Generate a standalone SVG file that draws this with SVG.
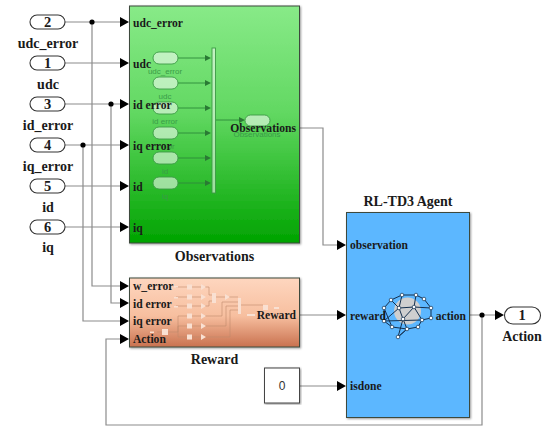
<svg xmlns="http://www.w3.org/2000/svg" width="550" height="435" viewBox="0 0 550 435">
<style>
text{font-family:"Liberation Serif","Times New Roman",serif;font-weight:bold;fill:#1a1a1a}
.lab{font-size:14px;text-anchor:middle}
.num{font-size:14.5px;text-anchor:middle}
.port{font-size:11.6px}
.pill{fill:#fff;stroke:#333;stroke-width:1.1}
.block{stroke:#3d4a3d;stroke-width:1;filter:url(#sh)}
.wire{fill:none;stroke:#8c8c8c;stroke-width:1.2}
.arr{fill:#000}
.dot{fill:#000}
.mp{fill:#fff;fill-opacity:.55;stroke:#3c9a46;stroke-width:.9}
.mw{fill:none;stroke:#2c8a3a;stroke-width:.9}
.ma{fill:#2a7a34}
.mt{font-family:"Liberation Sans",Arial,sans-serif;font-weight:normal;font-size:8px;text-anchor:middle;fill:#3a9c48}
.rw{fill:none;stroke:#c08a6c;stroke-width:.6}
.rb{fill:#f9e0d2}
.nl{fill:none;stroke:#14304f;stroke-width:1}
.nn{fill:#fff;stroke:#14304f;stroke-width:.7}
</style>
<defs>
<linearGradient id="g" x1="0" y1="0" x2="0" y2="1"><stop offset="0" stop-color="#88ea88"/><stop offset=".45" stop-color="#62d862"/><stop offset="1" stop-color="#00a300"/></linearGradient>
<linearGradient id="r" x1="0" y1="0" x2="0" y2="1"><stop offset="0" stop-color="#fed6bf"/><stop offset=".55" stop-color="#f7bf9f"/><stop offset="1" stop-color="#c9714f"/></linearGradient>
<filter id="sh" x="-5%" y="-5%" width="110%" height="110%"><feDropShadow dx="1" dy="1" stdDeviation=".8" flood-color="#000" flood-opacity=".4"/></filter>
</defs>

<g id="connectors">
<path class="wire" d="M65 22H122M65 63H122M65 104H122M65 145H122M65 186H122M65 227H122"/>
<path class="wire" d="M92 22V286H122M111 104V303H122M83 145V321H122"/>
<path class="wire" d="M300 128H323V245H339M300 315H339M300 386H339"/>
<path class="wire" d="M470 315H497M482 315V425H106V339H122"/>
<path class="arr" d="M120 17l9 5-9 5zM120 58l9 5-9 5zM120 99l9 5-9 5zM120 140l9 5-9 5zM120 181l9 5-9 5zM120 222l9 5-9 5zM120 281l9 5-9 5zM120 298l9 5-9 5zM120 316l9 5-9 5zM120 334l9 5-9 5zM337 240l9 5-9 5zM337 310l9 5-9 5zM337 381l9 5-9 5zM495 310l9 5-9 5z"/>
<circle class="dot" cx="92" cy="22" r="2.6"/><circle class="dot" cx="111" cy="104" r="2.6"/><circle class="dot" cx="83" cy="145" r="2.6"/><circle class="dot" cx="482" cy="315" r="2.6"/>
</g>

<g id="in2"><rect class="pill" x="30" y="15" width="35" height="14" rx="7"/><text class="num" x="47.500" y="27">2</text><text class="lab" x="48" y="48">udc_error</text></g>
<g id="in1"><rect class="pill" x="30" y="56" width="35" height="14" rx="7"/><text class="num" x="47.500" y="68">1</text><text class="lab" x="48" y="89">udc</text></g>
<g id="in3"><rect class="pill" x="30" y="97" width="35" height="14" rx="7"/><text class="num" x="47.500" y="109">3</text><text class="lab" x="48" y="130">id_error</text></g>
<g id="in4"><rect class="pill" x="30" y="138" width="35" height="14" rx="7"/><text class="num" x="47.500" y="150">4</text><text class="lab" x="48" y="171">iq_error</text></g>
<g id="in5"><rect class="pill" x="30" y="179" width="35" height="14" rx="7"/><text class="num" x="47.500" y="191">5</text><text class="lab" x="48" y="212">id</text></g>
<g id="in6"><rect class="pill" x="30" y="220" width="35" height="14" rx="7"/><text class="num" x="47.500" y="232">6</text><text class="lab" x="48" y="252">iq</text></g>

<g id="observations">
<rect class="block" x="129.500" y="6" width="170" height="237" fill="url(#g)"/>
<path class="mw" d="M178 58H206M178 83H206M178 108H206M178 133H206M178 158H206M178 183H206M216 120H240"/>
<path class="ma" d="M205 55l6 3-6 3zM205 80l6 3-6 3zM205 105l6 3-6 3zM205 130l6 3-6 3zM205 155l6 3-6 3zM205 180l6 3-6 3zM239 117l6 3-6 3z"/>
<rect class="mp" x="153" y="52" width="25" height="12" rx="6"/><rect class="mp" x="153" y="77" width="25" height="12" rx="6"/><rect class="mp" x="153" y="102" width="25" height="12" rx="6"/><rect class="mp" x="153" y="127" width="25" height="12" rx="6"/><rect class="mp" x="153" y="152" width="25" height="12" rx="6"/><rect class="mp" x="153" y="177" width="25" height="12" rx="6"/>
<rect class="mp" x="212" y="48" width="3.500" height="145"/>
<rect class="mp" x="245" y="115" width="25" height="11" rx="5.500"/>
<text class="mt" x="165" y="74">udc_error</text><text class="mt" x="165" y="99">udc</text><text class="mt" x="165" y="124">id error</text><text class="mt" x="171" y="149">or</text><text class="mt" x="165" y="174">id</text><text class="mt" x="165" y="199">iq</text><text class="mt" x="257" y="137">Observations</text>
<text class="port" x="133" y="27">udc_error</text><text class="port" x="133" y="68">udc</text><text class="port" x="133" y="109">id error</text><text class="port" x="133" y="150">iq error</text><text class="port" x="133" y="191">id</text><text class="port" x="133" y="232">iq</text>
<text class="port" x="296" y="132" text-anchor="end">Observations</text>
<text class="lab" x="214.500" y="261">Observations</text>
</g>

<g id="reward">
<rect class="block" x="129.500" y="278" width="170" height="69" fill="url(#r)"/>
<path class="rw" d="M176 287H187M191 287H201M205 287H209V295H212M176 297H187M191 297H201M176 306H187M191 306H201M205 306H209V301H212M216 297H225M229 297H238M191 316H201M205 316H222V302H238M191 326H201M205 326H226V306H238M191 337H201M205 337H230V310H238M241 305H263M157 332H162M168 332H178V316H187M178 332V326H187M178 332V337H187"/>
<g class="rb"><rect x="187" y="284.500" width="5" height="5"/><rect x="187" y="294.500" width="5" height="5"/><rect x="187" y="303.500" width="5" height="5"/><rect x="187" y="313.500" width="5" height="5"/><rect x="187" y="323.500" width="5" height="5"/><rect x="187" y="334.500" width="5" height="5"/>
<path d="M201 284l5 3-5 3zM201 294l5 3-5 3zM201 303l5 3-5 3zM201 313l5 3-5 3zM201 323l5 3-5 3zM201 334l5 3-5 3zM225 294l5 3-5 3z"/>
<rect x="212" y="293" width="4" height="10"/><rect x="238" y="298" width="3" height="16"/><rect x="263" y="305" width="5" height="5"/><rect x="274" y="307" width="5" height="2"/><rect x="247" y="314" width="8" height="2"/><rect x="162" y="329" width="6" height="6"/><rect x="150" y="331.500" width="4" height="1.500"/><rect x="174" y="286" width="4" height="1.500"/><rect x="174" y="297" width="4" height="1.500"/><rect x="174" y="306" width="4" height="1.500"/></g>
<text class="port" x="133" y="290">w_error</text><text class="port" x="133" y="308">id error</text><text class="port" x="133" y="325">iq error</text><text class="port" x="133" y="343">Action</text>
<text class="port" x="296" y="319" text-anchor="end">Reward</text>
<text class="lab" x="214.500" y="364">Reward</text>
</g>

<g id="constant">
<rect x="264.500" y="368" width="35" height="35" fill="#fff" stroke="#444" stroke-width="1" filter="url(#sh)"/>
<text x="282" y="390" text-anchor="middle" style="font-family:'Liberation Sans',Arial,sans-serif;font-weight:normal;font-size:12px;fill:#333">0</text>
</g>

<g id="agent">
<rect class="block" x="346.500" y="212.500" width="123" height="205" fill="#5cb7ff"/>
<circle cx="407.500" cy="311" r="13.500" fill="#cfcfcf"/>
<path class="nl" d="M391 300L402 295L416 295L424 299L431 308L431 318L422 320L418 327L407 329L392 327L384 308L391 300M384 308L384 321L392 327M384 321L399 308L403 319L407 329L398 337L403 319M399 308L414 307L416 295M414 307L422 320M399 308L391 300M414 307L403 319M384 321L422 320M402 295L399 308M431 308L414 307M398 337L407 329"/>
<g class="nn"><circle cx="391" cy="300" r="1.800"/><circle cx="402" cy="295" r="1.800"/><circle cx="416" cy="295" r="1.800"/><circle cx="424" cy="299" r="1.800"/><circle cx="431" cy="308" r="1.800"/><circle cx="431" cy="318" r="1.800"/><circle cx="422" cy="320" r="1.800"/><circle cx="418" cy="327" r="1.800"/><circle cx="407" cy="329" r="1.800"/><circle cx="403" cy="319" r="1.800"/><circle cx="399" cy="308" r="1.800"/><circle cx="414" cy="307" r="1.800"/><circle cx="384" cy="308" r="1.800"/><circle cx="384" cy="321" r="1.800"/><circle cx="392" cy="327" r="1.800"/><circle cx="398" cy="337" r="1.800"/></g>
<text class="port" x="350" y="249">observation</text><text class="port" x="350" y="320">reward</text><text class="port" x="350" y="390">isdone</text>
<text class="port" x="466" y="320" text-anchor="end">action</text>
<text class="lab" x="408" y="206">RL-TD3 Agent</text>
</g>

<g id="out1"><rect class="pill" x="504.500" y="307" width="36" height="17" rx="8.500"/><text class="num" x="522" y="320">1</text><text class="lab" x="522" y="341">Action</text></g>
</svg>
